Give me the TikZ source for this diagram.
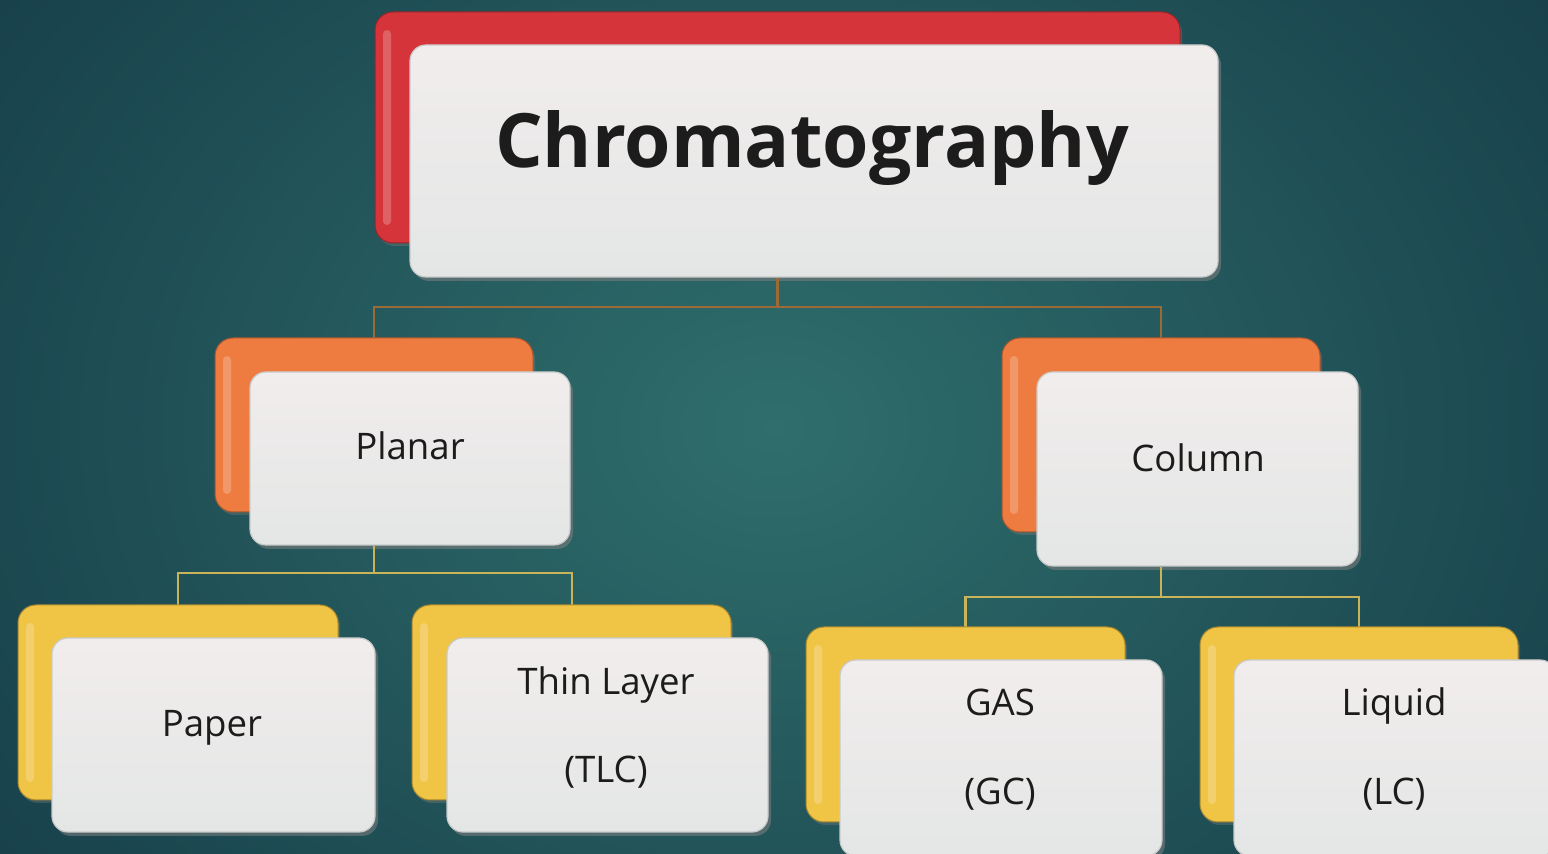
\documentclass[tikz,border=0pt]{standalone}
\usepackage{fontspec}
\setmainfont{Open Sans}
\usetikzlibrary{shadows}
\definecolor{bgin}{HTML}{2F6E6C}
\definecolor{bgout}{HTML}{173F4A}
\definecolor{redc}{HTML}{D5353A}
\definecolor{orangec}{HTML}{EE7C40}
\definecolor{yellowc}{HTML}{F0C444}
\definecolor{facetop}{HTML}{F1EDEC}
\definecolor{facebot}{HTML}{E4E6E6}
\definecolor{faceedge}{HTML}{C9CBCB}
\definecolor{conntop}{HTML}{9C6A36}
\definecolor{connlow}{HTML}{C9B45A}
\definecolor{txt}{HTML}{1C1C1C}
\tikzset{
  backbox/.style={draw=#1!70!black, line width=0.5pt, fill=#1, rounded corners=9pt,
    inner sep=0pt,
    drop shadow={shadow xshift=1pt, shadow yshift=-1.5pt, opacity=0.35},
    path picture={\fill[white,opacity=0.22,rounded corners=2pt]
      ([xshift=4pt,yshift=-9pt]path picture bounding box.north west) rectangle
      ([xshift=8pt,yshift=9pt]path picture bounding box.south west);}},
  frontbox/.style={draw=faceedge, line width=0.6pt, top color=facetop, bottom color=facebot,
    rounded corners=8pt, inner sep=0pt,
    drop shadow={shadow xshift=1.5pt, shadow yshift=-2pt, opacity=0.55}},
  conn/.style={draw=#1, line width=1.1pt},
  title/.style={font=\fontsize{37.5}{40}\selectfont\bfseries, text=txt, anchor=base, inner sep=0pt},
  label/.style={font=\fontsize{18.3}{21}\selectfont, text=txt, anchor=base, inner sep=0pt},
}
\begin{document}
\begin{tikzpicture}[x=0.5pt,y=-0.5pt]
\useasboundingbox (0,0) rectangle (1548,854);
\begin{scope}
\clip (0,0) rectangle (1548,854);
\shade[inner color=bgin, outer color=bgout] (-200,-350) rectangle (1748,1204);

% junction coordinates
\coordinate (j1) at (777.5,307);
\coordinate (j2) at (374,573);
\coordinate (j3) at (1161,597);

% top level
\node[backbox=redc, minimum width=402.5pt, minimum height=115.5pt] (topback) at (777.5,127.5) {};
\node[frontbox, minimum width=404pt, minimum height=116pt] (topfront) at (814,161) {};
\node[title] (toptext) at (812,168) {Chromatography};

% connectors level 1
\draw[conn=conntop] (topfront.south -| j1) -- (j1);
\draw[conn=conntop] (374,338) coordinate (pl1) -- (pl1 |- j1) -- (1161,307) -- (1161,338);

% second level
\node[backbox=orangec, minimum width=159pt, minimum height=87pt] (planback) at (374,425) {};
\node[frontbox, minimum width=160pt, minimum height=86.5pt] (planfront) at (410,458.5) {};
\node[label] (plantext) at (410,460) {Planar};

\node[backbox=orangec, minimum width=159pt, minimum height=97pt] (colback) at (1161,435) {};
\node[frontbox, minimum width=160.5pt, minimum height=97pt] (colfront) at (1197.5,469) {};
\node[label] (coltext) at (1198,472) {Column};

% connectors level 2
\draw[conn=connlow] (planfront.south -| j2) -- (j2);
\draw[conn=connlow] (178,605) -- (178,573) -- (572,573) -- (572,605);
\draw[conn=connlow] (colfront.south -| j3) -- (j3);
\draw[conn=connlow] (965.5,627) -- (965.5,597) -- (1359,597) -- (1359,627);

% third level
\node[backbox=yellowc, minimum width=160pt, minimum height=97.5pt] (papback) at (178,702.5) {};
\node[frontbox, minimum width=161.5pt, minimum height=97pt] (papfront) at (213.5,735) {};
\node[label] (paptext) at (212,737) {Paper};

\node[backbox=yellowc, minimum width=159.5pt, minimum height=97.5pt] (tlcback) at (571.5,702.5) {};
\node[frontbox, minimum width=160.5pt, minimum height=97pt] (tlcfront) at (607.5,735) {};
\node[label] (tlctext1) at (606,695) {Thin Layer};
\node[label] (tlctext2) at (606,783) {(TLC)};

\node[backbox=yellowc, minimum width=159.5pt, minimum height=97.5pt] (gasback) at (965.5,724.5) {};
\node[frontbox, minimum width=161pt, minimum height=98pt] (gasfront) at (1001,758) {};
\node[label] (gastext1) at (1000,716) {GAS};
\node[label] (gastext2) at (1000,805) {(GC)};

\node[backbox=yellowc, minimum width=159pt, minimum height=97.5pt] (liqback) at (1359,724.5) {};
\node[frontbox, minimum width=161pt, minimum height=98pt] (liqfront) at (1395,758) {};
\node[label] (liqtext1) at (1394,716) {Liquid};
\node[label] (liqtext2) at (1394,805) {(LC)};
\end{scope}
\end{tikzpicture}
\end{document}
